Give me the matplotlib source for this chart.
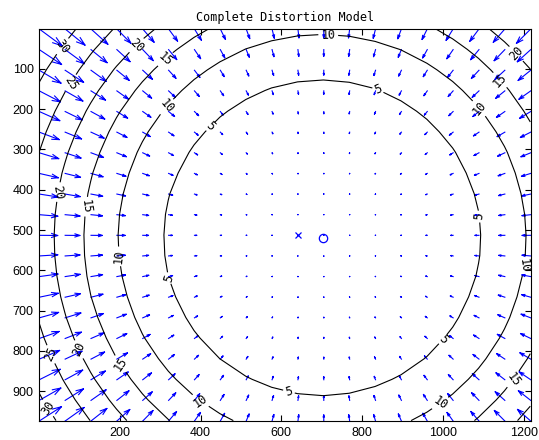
import numpy as np
import matplotlib
matplotlib.use("Agg")
import matplotlib.pyplot as plt

# image size (pixels) and distortion parameters
nx, ny = 1280, 1024
cc = [701.0, 519.0]             # principal point, 0-based pixels
k_radial = [90.0, -49.0]        # |displacement| = k1*r^3 + k2*r^5, r in units of 1000 px

levels = [5, 10, 15, 20, 25, 30]
x_ticks = [200, 400, 600, 800, 1000, 1200]
y_ticks = [100, 200, 300, 400, 500, 600, 700, 800, 900]

# where the contour labels sit (data coords)
label_x = [424, 325, 617, 1006, 1095, 840,
           318, 201, 397, 1001, 1209, 1097, 716,
           312, 110, 206, 1186, 1149,
           243, 40, 97, 1186,
           82, 28,
           60, 23]
label_y = [242, 618, 908, 777, 466, 150,
           195, 565, 928, 941, 590, 192, 15,
           75, 441, 829, 879, 120,
           43, 404, 797, 58,
           137, 809,
           45, 941]


def displacement(px, py):
    """pixel displacement of the distortion model, pointing to the centre"""
    ddx = px - cc[0]
    ddy = py - cc[1]
    rr = np.hypot(ddx, ddy)
    r = rr / 1000.0
    mag = k_radial[0] * r**3 + k_radial[1] * r**5
    return -ddx / rr * mag, -ddy / rr * mag


mx, my = np.meshgrid(np.arange(0, nx - 1, nx / 20), np.arange(0, ny - 1, ny / 20))
dx, dy = displacement(mx, my)
dr = np.hypot(dx, dy)

# matlab style autoscale of the arrows
n = np.sqrt(mx.size)
delx = (mx.max() - mx.min()) / n
dely = (my.max() - my.min()) / n
maxlen = np.max(np.sqrt((dx**2 + dy**2) / (delx**2 + dely**2)))
s = 0.9 / maxlen
u = (dx * s).ravel()
v = (dy * s).ravel()
x = (mx + 1).ravel()
y = (my + 1).ravel()

# shafts + open arrow heads, like matlab quiver
alpha, beta = 0.33, 0.33
nan = np.full_like(x, np.nan)
qx = np.vstack([x, x + u, nan,
                x + u - alpha * (u + beta * v), x + u, x + u - alpha * (u - beta * v), nan]).T.ravel()
qy = np.vstack([y, y + v, nan,
                y + v - alpha * (v - beta * u), y + v, y + v - alpha * (v + beta * u), nan]).T.ravel()

fig = plt.figure(figsize=(5.39, 4.40), dpi=100)
ax = fig.add_axes([39.3 / 539, 1 - 421 / 440, (530.7 - 39.3) / 539, (421 - 29) / 440])

ax.plot(qx, qy, color=(0, 0, 1), lw=0.8)
ax.plot(cc[0] + 1, cc[1] + 1, 'o', mfc='none', mec=(0, 0, 1), ms=6, mew=0.9)
ax.plot((nx - 1) / 2 + 1, (ny - 1) / 2 + 1, 'x', color=(0, 0, 1), ms=4.5, mew=0.9)

cs = ax.contour(mx, my, dr, levels=levels, colors='k', linewidths=0.8)
ax.clabel(cs, fmt='%d', fontsize=8.5, inline=True, inline_spacing=2,
          manual=list(zip(label_x, label_y)))
for t in cs.labelTexts:
    t.set_family('DejaVu Sans Mono')

ax.set_xlim(1, mx.max() + 1)
ax.set_ylim(my.max() + 1, 1)
ax.set_xticks(x_ticks)
ax.set_yticks(y_ticks)
ax.tick_params(direction='in', length=4, width=0.8, top=True, right=True,
               labelsize=9, pad=4)
for lab in ax.get_xticklabels() + ax.get_yticklabels():
    lab.set_family('Liberation Sans')
for sp in ax.spines.values():
    sp.set_linewidth(0.8)

ax.set_title('Complete Distortion Model', family='DejaVu Sans Mono', fontsize=8.5, pad=6)

fig.savefig('out.png', dpi=100)
